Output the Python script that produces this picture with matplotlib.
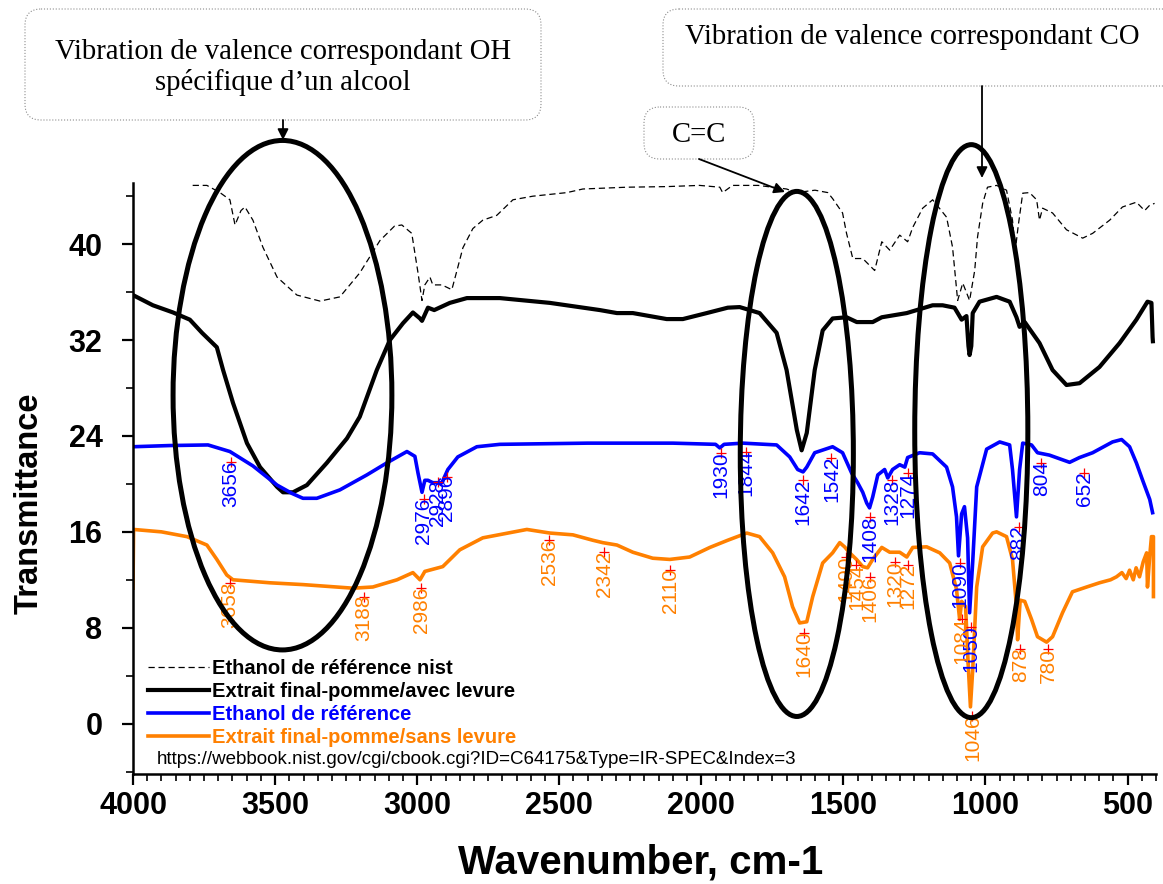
import matplotlib
matplotlib.use("Agg")
import matplotlib.pyplot as plt
from matplotlib.patches import Ellipse, FancyBboxPatch
from matplotlib.ticker import MultipleLocator

plt.rcParams["font.family"] = ["Liberation Sans", "DejaVu Sans"]

# -- Spectres (nombre d'onde en cm-1, transmittance) -------------------------

nist_wn = [3790, 3740, 3694, 3659, 3641, 3620, 3606, 3578, 3543, 3493, 3423,
           3342, 3272, 3202, 3131, 3080, 3054, 3019, 2997, 2983, 2973, 2955,
           2945, 2913, 2878, 2860, 2839, 2804, 2769, 2720, 2663, 2593, 2473,
           2417, 2262, 2122, 2006, 1935, 1925, 1890, 1800, 1700, 1665, 1600,
           1555, 1538, 1503, 1489, 1467, 1432, 1390, 1365, 1337, 1302, 1274,
           1256, 1221, 1186, 1137, 1116, 1098, 1080, 1056, 1038, 1028, 1010,
           993, 961, 926, 905, 895, 885, 869, 845, 820, 810, 799, 764, 715,
           658, 623, 563, 518, 469, 440, 422, 405]
nist_t = [44.9, 44.9, 44.3, 43.7, 41.6, 42.8, 43.1, 42.0, 39.75, 37.25, 35.75,
          35.25, 35.6, 37.6, 40.3, 41.5, 41.6, 40.9, 37.6, 35.3, 36.6, 37.25,
          36.6, 36.6, 36.2, 37.8, 39.7, 41.3, 42.0, 42.4, 43.7, 44.0, 44.3,
          44.6, 44.75, 44.8, 44.9, 44.75, 44.3, 44.9, 44.9, 44.6, 44.3, 44.5,
          44.3, 43.8, 42.6, 40.9, 38.8, 38.8, 37.8, 40.2, 39.5, 40.75, 40.2,
          41.4, 43.0, 43.7, 42.25, 39.75, 35.3, 36.75, 35.3, 37.8, 40.6, 43.4,
          44.75, 44.9, 44.5, 42.0, 39.5, 41.5, 44.25, 44.3, 43.7, 42.0, 43.0,
          42.6, 41.2, 40.5, 40.9, 42.0, 43.1, 43.5, 42.8, 43.25, 43.4]

avec_wn = [4000, 3930, 3859, 3800, 3757, 3705, 3683, 3648, 3599, 3553, 3493,
           3472, 3437, 3388, 3318, 3247, 3202, 3142, 3096, 3050, 3015, 2990,
           2983, 2962, 2940, 2885, 2825, 2709, 2533, 2357, 2297, 2241, 2122,
           2065, 1981, 1907, 1865, 1795, 1735, 1700, 1664, 1647, 1629, 1601,
           1573, 1538, 1489, 1453, 1397, 1365, 1277, 1186, 1151, 1109, 1084,
           1067, 1060, 1056, 1050, 1045, 1021, 961, 915, 891, 880, 862, 810,
           764, 715, 669, 599, 528, 469, 430, 416, 412, 411]
avec_t = [35.75, 34.9, 34.3, 33.7, 32.6, 31.4, 29.5, 26.75, 23.4, 21.4, 19.75,
          19.3, 19.3, 19.9, 21.75, 23.8, 25.6, 29.5, 32.0, 33.4, 34.3, 33.8,
          33.6, 34.7, 34.5, 35.1, 35.5, 35.5, 35.1, 34.5, 34.25, 34.25, 33.75,
          33.75, 34.25, 34.7, 34.75, 34.25, 32.6, 29.5, 24.5, 22.8, 24.25, 29.5,
          32.8, 33.8, 33.9, 33.5, 33.5, 33.9, 34.25, 34.9, 34.9, 34.7, 33.7,
          34.0, 31.5, 30.75, 31.5, 34.25, 35.2, 35.6, 35.2, 33.9, 33.1, 33.5,
          31.75, 29.5, 28.25, 28.4, 29.75, 31.75, 33.7, 35.2, 35.1, 32.25, 31.9]

ref_wn = [4000, 3870, 3736, 3659, 3578, 3493, 3440, 3402, 3353, 3272, 3177,
          3107, 3036, 3008, 2997, 2983, 2973, 2962, 2945, 2913, 2892, 2857,
          2790, 2709, 2400, 2100, 1950, 1935, 1920, 1854, 1735, 1689, 1661,
          1642, 1629, 1601, 1538, 1503, 1471, 1450, 1432, 1418, 1408, 1397,
          1379, 1355, 1344, 1327, 1302, 1284, 1274, 1232, 1186, 1137, 1116,
          1102, 1095, 1084, 1074, 1063, 1056, 1045, 1031, 996, 950, 915, 905,
          891, 880, 869, 838, 817, 775, 704, 669, 623, 553, 521, 493, 469,
          447, 422, 412]
ref_t = [23.1, 23.2, 23.25, 22.7, 21.5, 19.9, 19.2, 18.8, 18.8, 19.5, 20.75,
         21.75, 22.7, 22.3, 20.9, 19.3, 20.3, 20.3, 20.1, 20.1, 21.2, 22.25,
         23.1, 23.3, 23.4, 23.4, 23.3, 23.0, 23.3, 23.4, 23.25, 22.25, 21.2,
         21.0, 21.4, 22.6, 23.1, 22.6, 20.9, 20.1, 19.3, 18.4, 18.0, 18.9,
         20.75, 21.2, 20.5, 21.2, 21.6, 21.4, 22.2, 22.6, 22.5, 21.4, 19.75,
         17.25, 14.0, 17.5, 18.1, 15.5, 9.25, 13.5, 19.75, 22.9, 23.5, 23.25,
         21.2, 17.25, 21.2, 23.4, 23.25, 22.6, 22.4, 21.8, 22.2, 22.6, 23.5,
         23.7, 23.1, 21.75, 20.3, 18.7, 17.6]

sans_wn = [4000, 3998, 3900, 3810, 3740, 3705, 3670, 3648, 3518, 3402, 3226,
           3156, 3071, 3015, 2990, 2973, 2910, 2850, 2769, 2614, 2533, 2452,
           2382, 2347, 2297, 2241, 2171, 2111, 2041, 1970, 1907, 1840, 1795,
           1749, 1707, 1679, 1654, 1629, 1608, 1573, 1538, 1513, 1496, 1478,
           1454, 1432, 1415, 1397, 1365, 1337, 1302, 1277, 1256, 1207, 1161,
           1126, 1102, 1091, 1084, 1070, 1060, 1053, 1045, 1031, 1010, 975,
           961, 926, 905, 891, 887, 878, 862, 838, 817, 785, 764, 729, 694,
           644, 599, 560, 539, 520, 505, 493, 480, 470, 458, 445, 433, 430,
           422, 416, 409, 409]
sans_t = [11.3, 16.2, 16.0, 15.6, 14.9, 13.7, 12.4, 12.0, 11.75, 11.6, 11.3,
          11.4, 12.0, 12.6, 12.0, 12.7, 13.1, 14.5, 15.5, 16.2, 15.9, 15.75,
          15.3, 15.1, 14.9, 14.3, 13.8, 13.7, 13.9, 14.7, 15.3, 15.9, 15.6,
          14.25, 12.25, 9.75, 8.4, 8.5, 10.6, 13.4, 14.25, 15.1, 14.75, 14.25,
          13.7, 13.1, 13.0, 13.7, 14.7, 14.3, 14.3, 13.9, 14.7, 14.75, 14.25,
          13.4, 11.2, 8.7, 10.2, 9.75, 4.5, 1.4, 4.5, 11.4, 14.75, 15.9,
          16.0, 15.6, 13.7, 9.75, 7.0, 10.3, 10.2, 8.7, 7.25, 6.8, 7.25, 9.25,
          11.0, 11.4, 11.75, 12.0, 12.25, 12.6, 12.1, 12.8, 12.0, 13.0, 12.25,
          13.5, 14.25, 11.4, 14.0, 15.6, 15.6, 10.6]

# -- Pics annotes -------------------------------------------------------------

ref_peaks = [3656, 2976, 2928, 2896, 1930, 1844, 1642, 1542, 1408, 1328, 1274,
             1090, 1050, 882, 804, 652]
ref_peak_t = [21.8, 18.7, 20.2, 20.6, 22.6, 22.7, 20.3, 22.2, 17.25, 20.3,
              20.9, 13.4, 8.1, 16.4, 21.75, 20.9]

sans_peaks = [3658, 3188, 2986, 2536, 2342, 2110, 1640, 1490, 1454, 1406,
              1320, 1272, 1084, 1046, 878, 780]
sans_peak_t = [11.75, 10.6, 11.3, 15.3, 14.3, 12.8, 7.6, 13.9, 13.25, 12.25,
               13.5, 13.25, 8.7, 0.6, 6.2, 6.2]

# zones entourees : (centre cm-1, centre T, largeur cm-1, hauteur T)
zones = [(3474, 27.4, 770, 42.5),
         (1664, 22.5, 398, 43.8),
         (1050, 24.4, 398, 47.8)]

labels = ["Ethanol de référence nist",
          "Extrait final-pomme/avec levure",
          "Ethanol de référence",
          "Extrait final-pomme/sans levure"]
label_colors = ["black", "black", "#0000ff", "#ff8000"]

BLUE = "#0000ff"
ORANGE = "#ff8000"

fig = plt.figure(figsize=(11.63, 8.84), dpi=100)
ax = fig.add_axes([0.11436, 0.12443, 0.87962, 0.66855])

ax.plot(nist_wn, nist_t, color="black", lw=0.9, ls=(0, (5, 3)), label=labels[0])
ax.plot(avec_wn, avec_t, color="black", lw=3.0, label=labels[1])
ax.plot(ref_wn, ref_t, color=BLUE, lw=2.6, label=labels[2])
ax.plot(sans_wn, sans_t, color=ORANGE, lw=2.6, label=labels[3])


def mark_peaks(peaks, levels, color):
    for wn, t in zip(peaks, levels):
        ax.plot(wn, t, marker="+", color="red", ms=7, mew=0.9, zorder=4)
        ax.text(wn, t + 0.15, str(wn), rotation=90, ha="center", va="top",
                color=color, fontsize=15, clip_on=False, zorder=4)


mark_peaks(ref_peaks, ref_peak_t, BLUE)
mark_peaks(sans_peaks, sans_peak_t, ORANGE)

for cx, cy, w, h in zones:
    ax.add_patch(Ellipse((cx, cy), w, h, fill=False, ec="black", lw=3.6,
                         clip_on=False, zorder=6))

ax.set_xlim(4000, 400)
ax.set_ylim(-4.2, 45.1)
ax.xaxis.set_major_locator(MultipleLocator(500))
ax.xaxis.set_minor_locator(MultipleLocator(50))
ax.yaxis.set_major_locator(MultipleLocator(8))
ax.yaxis.set_minor_locator(MultipleLocator(4))
ax.tick_params(axis="both", which="major", direction="out", length=8,
               width=1.6, labelsize=22)
ax.tick_params(axis="both", which="minor", direction="out", length=5,
               width=1.2)
ax.tick_params(axis="y", which="major", pad=14)
ax.tick_params(axis="x", which="major", pad=4)
for lab in ax.get_xticklabels() + ax.get_yticklabels():
    lab.set_fontweight("bold")
for side in ("top", "right"):
    ax.spines[side].set_visible(False)
for side in ("left", "bottom"):
    ax.spines[side].set_linewidth(1.8)

leg = ax.legend(loc="upper left", bbox_to_anchor=(0.0147, 0.195),
                frameon=False, borderpad=0, borderaxespad=0,
                handlelength=3.05, handletextpad=0.15, labelspacing=0.2,
                prop={"weight": "bold", "size": 14.5})
for txt, col in zip(leg.get_texts(), label_colors):
    txt.set_color(col)

ax.text(0.0235, 0.0237,
        "https://webbook.nist.gov/cgi/cbook.cgi?ID=C64175&Type=IR-SPEC&Index=3",
        transform=ax.transAxes, fontsize=13.5, va="center", ha="left")

fig.text(641 / 1163, 1 - 862 / 884, "Wavenumber, cm-1", fontsize=29,
         fontweight="bold", ha="center", va="center")
fig.text(29 / 1163, 1 - 503 / 884, "Transmittance", fontsize=23.5,
         fontweight="bold", rotation=90, ha="center", va="center")

# -- Encadres et fleches (coordonnees en pixels de la figure) ---------------
ov = fig.add_axes([0, 0, 1, 1])
ov.set_xlim(0, 1163)
ov.set_ylim(884, 0)
ov.axis("off")
ov.patch.set_alpha(0)

serif = ["Liberation Serif", "DejaVu Serif"]
boxes = [(25, 9, 516, 111), (644, 107, 110, 52), (663, 9, 520, 77)]
for bx, by, bw, bh in boxes:
    ov.add_patch(FancyBboxPatch((bx, by), bw, bh,
                                boxstyle="round,pad=0,rounding_size=16",
                                fc="white", ec="#8c8c8c", lw=0.8, ls=":"))

ov.text(283, 52, "Vibration de valence correspondant OH", family=serif,
        fontsize=20.7, ha="center", va="center")
ov.text(283, 82, "spécifique d’un alcool", family=serif, fontsize=20.7,
        ha="center", va="center")
ov.text(699, 135, "C=C", family=serif, fontsize=20.7, ha="center",
        va="center")
ov.text(912, 37, "Vibration de valence correspondant CO", family=serif,
        fontsize=20.7, ha="center", va="center")

arrow = dict(arrowstyle="-|>", color="black", lw=1.3, mutation_scale=16,
             shrinkA=0, shrinkB=0)
ov.annotate("", xy=(283, 140), xytext=(283, 120), arrowprops=arrow)
ov.annotate("", xy=(785, 192), xytext=(699, 159), arrowprops=arrow)
ov.annotate("", xy=(982, 178), xytext=(982, 86), arrowprops=arrow)

fig.savefig("out.png", dpi=100)
